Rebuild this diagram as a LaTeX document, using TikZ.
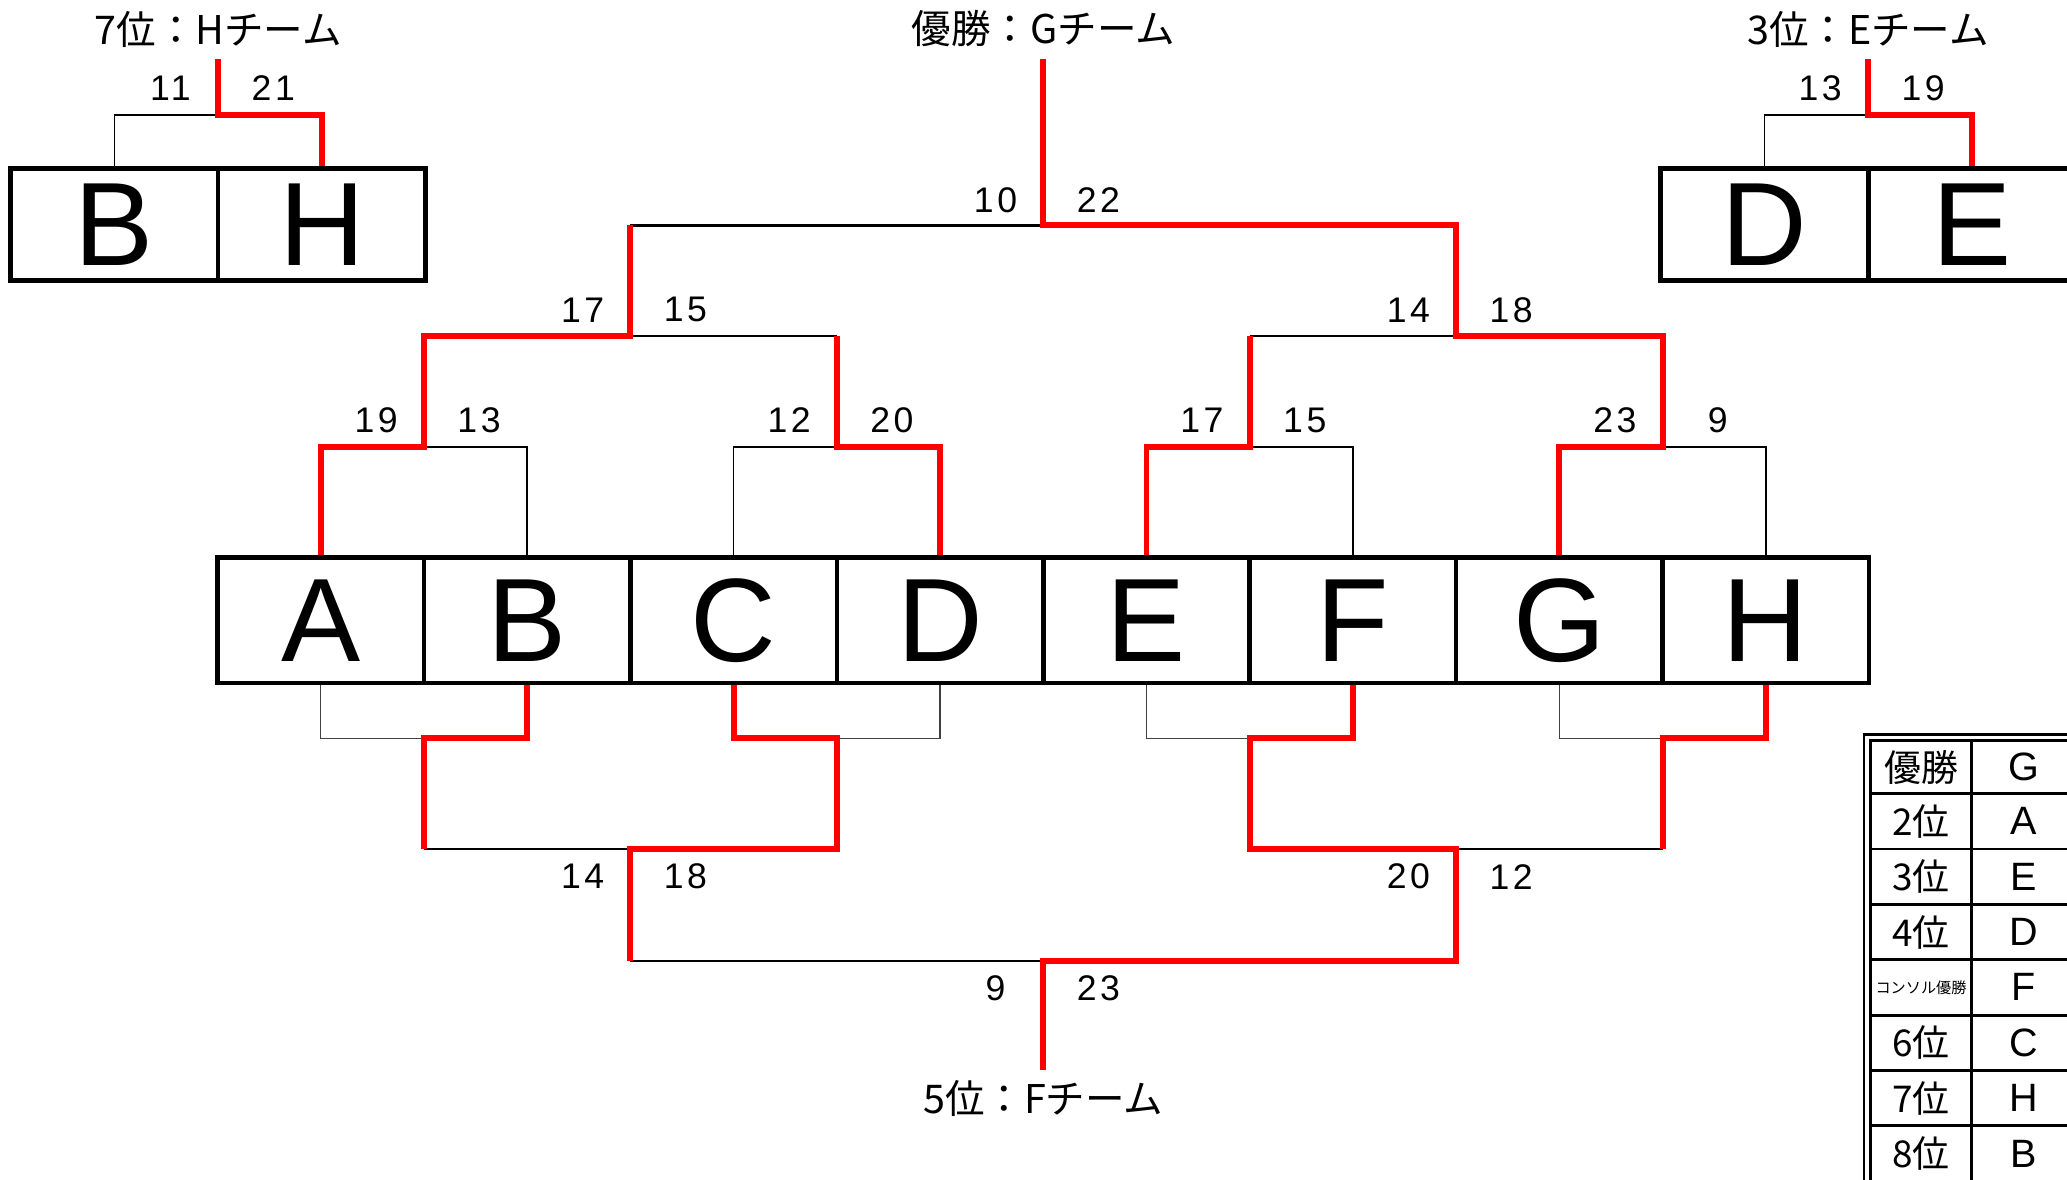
\documentclass[tikz,border=0pt]{standalone}
\usepackage{fontspec}
\setmainfont{Liberation Sans}
\newfontfamily\jp{Noto Sans CJK JP}
\newfontfamily\digitfont{Liberation Sans}[LetterSpace=10]
\begin{document}
\begin{tikzpicture}[x=1pt,y=-1pt,
  team/.style={draw=black,line width=3.5pt,minimum width=156.6pt,minimum height=95pt,inner sep=0pt,font=\fontsize{90}{90}\selectfont},
  smallteam/.style={team,minimum width=157.5pt,minimum height=85pt},
  win/.style={draw=red,line width=4.5pt,line join=miter},
  lose/.style={draw=black,line width=1.3pt},
  losebot/.style={draw=black!75,line width=0.9pt},
  link/.style={draw=black,line width=1.9pt},
  score/.style={font=\digitfont\fontsize{27}{27}\selectfont,inner sep=0pt,xshift=1.3pt},
  headline/.style={font=\jp\fontsize{30}{30}\selectfont,inner sep=0pt},
  cell/.style={draw=black,line width=2.2pt,inner sep=0pt,minimum width=76.5pt,minimum height=42pt},
  pcell/.style={cell,font=\jp\fontsize{28}{28}\selectfont},
  tcell/.style={cell,minimum width=79.5pt,font=\fontsize{30}{30}\selectfont},
]
\useasboundingbox (0,0) rectangle (1568,895);

% ---------- main row of teams ----------
\foreach \n [count=\i from 0] in {A,B,C,D,E,F,G,H}
  \node[team] (\n) at ({243.3+156.6*\i},470.5) {\n};

% ---------- small boxes (7th / 3rd place) ----------
\node[smallteam] (B2) at (86.75,170.5) {B};
\node[smallteam] (H2) at (244.25,170.5) {H};
\node[smallteam] (D2) at (1338.5,170.5) {D};
\node[smallteam] (E2) at (1496,170.5) {E};

% ---------- joints ----------
\coordinate (q1) at (321.6,339);
\coordinate (q2) at (634.8,339);
\coordinate (q3) at (948,339);
\coordinate (q4) at (1261.2,339);
\coordinate (s1) at (478.2,255);
\coordinate (s2) at (1104.6,255);
\coordinate (f) at (791.4,171);
\coordinate (champ) at (791.4,45);

\coordinate (p1) at (321.6,560);
\coordinate (p2) at (634.8,560);
\coordinate (p3) at (948,560);
\coordinate (p4) at (1261.2,560);
\coordinate (t1) at (478.2,644);
\coordinate (t2) at (1104.6,644);
\coordinate (g) at (791.4,729);
\coordinate (fifth) at (791.4,812);

\coordinate (u1) at (165.5,87);
\coordinate (u1top) at (165.5,45);
\coordinate (u2) at (1417,87);
\coordinate (u2top) at (1417,45);

% ---------- titles ----------
\node[headline] (champT) at (791.4,22) {優勝：Gチーム};
\node[headline] (seventhT) at (165.5,22) {7位：Hチーム};
\node[headline] (thirdT) at (1417,22) {3位：Eチーム};
\node[headline] (fifthT) at (791.4,833) {5位：Fチーム};

% ---------- upper bracket: losers ----------
\draw[lose] (B.north) |- (q1);
\draw[lose] (C.north) |- (q2);
\draw[lose] (F.north) |- (q3);
\draw[lose] (H.north) |- (q4);
\draw[link] (q2 |- s1) -- (s1);
\draw[link] (q3 |- s2) -- (s2);
\draw[link] (s1 |- f) -- (f);
% winners
\draw[win] (A.north) |- (q1) |- (s1) -- (s1 |- f);
\draw[win] (D.north) |- (q2) -- (q2 |- s1);
\draw[win] (E.north) |- (q3) -- (q3 |- s2);
\draw[win] (G.north) |- (q4) |- (s2) -- (s2 |- f) -- (f) -- (champ);

% ---------- lower bracket ----------
\draw[losebot] (A.south) |- (p1);
\draw[losebot] (D.south) |- (p2);
\draw[losebot] (E.south) |- (p3);
\draw[losebot] (G.south) |- (p4);
\draw[link] (p1 |- t1) -- (t1);
\draw[link] (p4 |- t2) -- (t2);
\draw[link] (t1 |- g) -- (g);
\draw[win] (B.south) |- (p1) -- (p1 |- t1);
\draw[win] (C.south) |- (p2) |- (t1) -- (t1 |- g);
\draw[win] (H.south) |- (p4) -- (p4 |- t2);
\draw[win] (F.south) |- (p3) |- (t2) -- (t2 |- g) -- (g) -- (fifth);

% ---------- small brackets ----------
\draw[lose] (B2.north) |- (u1);
\draw[win] (H2.north) |- (u1) -- (u1top);
\draw[lose] (D2.north) |- (u2);
\draw[win] (E2.north) |- (u2) -- (u2top);

% ---------- scores ----------
\node[score] (s11) at (128,67) {11};
\node[score] (s21) at (206,67) {21};
\node[score] (s13b) at (1379.5,67) {13};
\node[score] (s19b) at (1457.5,67) {19};

\node[score] (a19) at (284.1,319) {19};
\node[score] (a13) at (362.1,319) {13};
\node[score] (a12) at (597.3,319) {12};
\node[score] (a20) at (675.3,319) {20};
\node[score] (a17) at (910.5,319) {17};
\node[score] (a15) at (988.5,319) {15};
\node[score] (a23) at (1223.7,319) {23};
\node[score] (a9) at (1301.7,319) {9};

\node[score] (b17) at (440.7,235) {17};
\node[score] (b15) at (518.7,235) {15};
\node[score] (b14) at (1067.1,235) {14};
\node[score] (b18) at (1145.1,235) {18};

\node[score] (c10) at (753.9,152) {10};
\node[score] (c22) at (831.9,152) {22};

\node[score] (d14) at (440.7,665) {14};
\node[score] (d18) at (518.7,665) {18};
\node[score] (d20) at (1067.1,665) {20};
\node[score] (d12) at (1145.1,665) {12};

\node[score] (e9) at (753.9,750) {9};
\node[score] (e23) at (831.9,750) {23};

% ---------- ranking table ----------
\draw[line width=2pt] (1414,557) rectangle (1600,920);
\node[pcell,minimum height=40pt] (p1c) at (1457.25,582) {優勝};
\node[tcell,minimum height=40pt] (r1c) at (1535.25,582) {G};
\node[pcell] (p2c) at (1457.25,623) {2位};
\node[tcell] (r2c) at (1535.25,623) {A};
\node[pcell] (p3c) at (1457.25,665) {3位};
\node[tcell] (r3c) at (1535.25,665) {E};
\node[pcell] (p4c) at (1457.25,707) {4位};
\node[tcell] (r4c) at (1535.25,707) {D};
\node[pcell,font=\jp\fontsize{11.5}{11.5}\selectfont] (p5c) at (1457.25,749) {コンソル優勝};
\node[tcell] (r5c) at (1535.25,749) {F};
\node[pcell] (p6c) at (1457.25,791) {6位};
\node[tcell] (r6c) at (1535.25,791) {C};
\node[pcell] (p7c) at (1457.25,833) {7位};
\node[tcell] (r7c) at (1535.25,833) {H};
\node[pcell] (p8c) at (1457.25,875) {8位};
\node[tcell] (r8c) at (1535.25,875) {B};
\end{tikzpicture}
\end{document}
